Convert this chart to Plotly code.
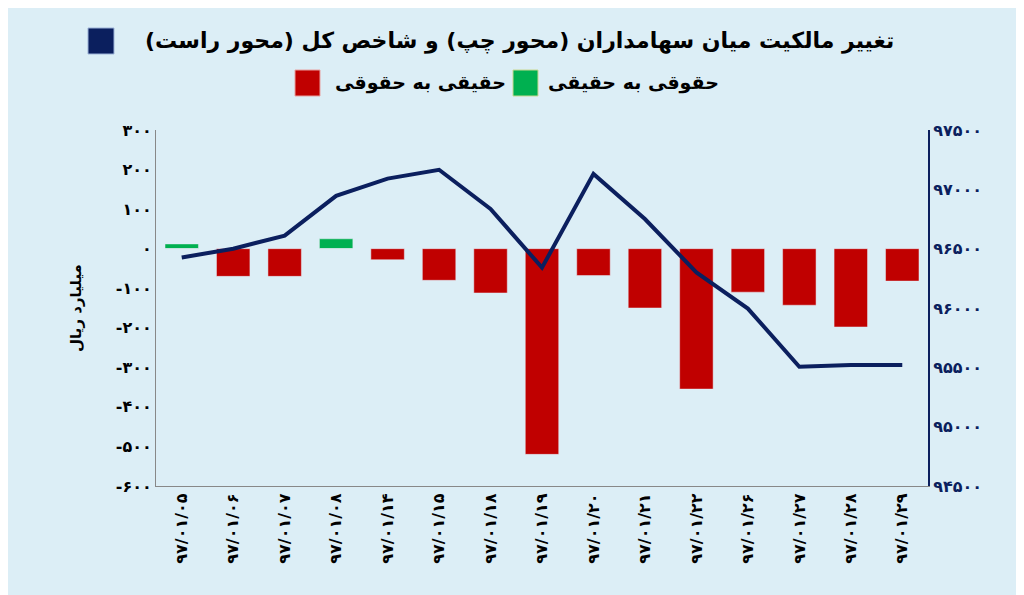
import plotly.graph_objects as go

dates = ["۹۷/۰۱/۰۵","۹۷/۰۱/۰۶","۹۷/۰۱/۰۷","۹۷/۰۱/۰۸","۹۷/۰۱/۱۴","۹۷/۰۱/۱۵","۹۷/۰۱/۱۸","۹۷/۰۱/۱۹",
         "۹۷/۰۱/۲۰","۹۷/۰۱/۲۱","۹۷/۰۱/۲۲","۹۷/۰۱/۲۶","۹۷/۰۱/۲۷","۹۷/۰۱/۲۸","۹۷/۰۱/۲۹"]
haqiqi_to_hoquqi = [12, 0, 0, 25, 0, 0, 0, 0, 0, 0, 0, 0, 0, 0, 0]
hoquqi_to_haqiqi = [0, -70, -70, 0, -28, -80, -112, -520, -68, -150, -355, -110, -143, -198, -82]
index_vals = [96425, 96500, 96610, 96945, 97090, 97165, 96835, 96340, 97130, 96750, 96300, 95995, 95505, 95520, 95520]

left_ticks = [300, 200, 100, 0, -100, -200, -300, -400, -500, -600]
right_ticks = [97500, 97000, 96500, 96000, 95500, 95000, 94500]

def fa(n):
    s = str(n).replace("-", "")
    s = s.translate(str.maketrans("0123456789", "۰۱۲۳۴۵۶۷۸۹"))
    return ("-" + s) if n < 0 else s

NAVY = "#0B1F5E"
RED = "#C00000"
GREEN = "#00B050"
font = "DejaVu Sans"

def px(x):
    return (x - 148) / 772

def py(y):
    return 1 + (122 - y) / 356

fig = go.Figure()
fig.add_bar(x=dates, y=haqiqi_to_hoquqi, marker_color=GREEN, width=0.65, showlegend=False)
fig.add_bar(x=dates, y=hoquqi_to_haqiqi, marker_color=RED, width=0.65, showlegend=False)
fig.add_scatter(x=dates, y=index_vals, yaxis="y2", mode="lines",
                line=dict(color=NAVY, width=4), showlegend=False)

fig.update_layout(
    width=1024, height=595, barmode="overlay",
    paper_bgcolor="#DCEEF6", plot_bgcolor="#DCEEF6",
    margin=dict(l=148, r=104, t=122, b=117),
    font=dict(family=font, color="#000"),
    xaxis=dict(tickangle=-90, tickvals=dates, ticktext=["<b>" + d + "</b>" for d in dates],
               tickfont=dict(size=16, color="#000"), showgrid=False,
               showline=True, linecolor="#888", ticks=""),
    yaxis=dict(range=[-600, 300], tickvals=left_ticks, ticktext=["<b>" + fa(v) + "</b>" for v in left_ticks],
               showgrid=False, zeroline=False, showline=True, linecolor="#888",
               tickfont=dict(size=16), title=dict(text="<b>میلیارد ریال</b>", font=dict(size=15), standoff=30)),
    yaxis2=dict(overlaying="y", side="right", range=[94500, 97500], tickvals=right_ticks,
                ticktext=["<b>" + fa(v) + "</b>" for v in right_ticks], showgrid=False, zeroline=False,
                showline=True, linecolor=NAVY, linewidth=2, tickfont=dict(size=16, color=NAVY)),
)
fig.add_annotation(xref="paper", yref="paper", x=px(511), y=py(33), xanchor="center", yanchor="middle",
                   showarrow=False,
                   text="<b>تغییر مالکیت میان سهامداران (محور چپ) و شاخص کل (محور راست)</b>",
                   font=dict(size=22, family=font))
fig.add_annotation(xref="paper", yref="paper", x=px(538), y=py(75), xanchor="left", yanchor="middle",
                   showarrow=False, text="<b>حقوقی به حقیقی</b>", font=dict(size=19, family=font))
fig.add_annotation(xref="paper", yref="paper", x=px(500), y=py(75), xanchor="right", yanchor="middle",
                   showarrow=False, text="<b>حقیقی به حقوقی</b>", font=dict(size=19, family=font))
fig.add_shape(type="rect", xref="paper", yref="paper", x0=px(80), x1=px(106),
              y0=py(46), y1=py(20), fillcolor=NAVY, line=dict(color="#9DB3D8", width=1))
fig.add_shape(type="rect", xref="paper", yref="paper", x0=px(505), x1=px(530),
              y0=py(88), y1=py(62), fillcolor=GREEN, line=dict(color="#C8D890", width=1))
fig.add_shape(type="rect", xref="paper", yref="paper", x0=px(287), x1=px(312),
              y0=py(88), y1=py(62), fillcolor=RED, line=dict(color="#E8A0A0", width=1))
fig.write_html("out.html")
